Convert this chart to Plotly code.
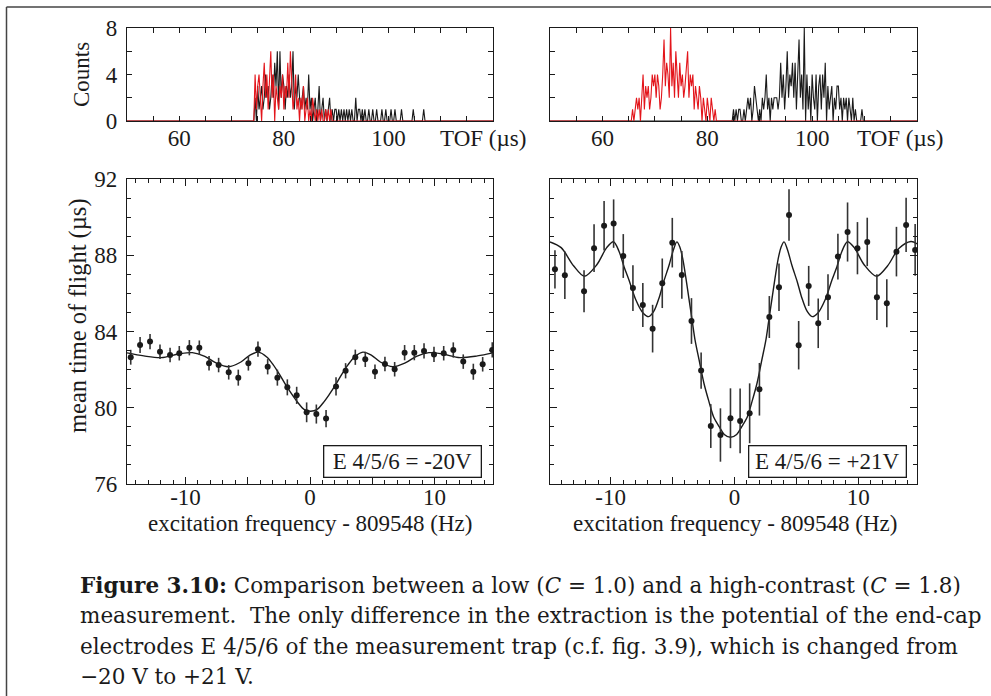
import plotly.graph_objects as go

W, H = 991, 696

# ---------------- data ----------------
# TOF histograms (counts per 0.25 us bin)
TOF_RANGE = [50, 120]
TOF_BIN = 0.25
hist_low_red_start = 74.5
hist_low_red = [4, 1, 3, 4, 2, 0, 3, 5, 2, 4, 1, 3, 6, 2, 4, 0, 3, 2, 1, 3,
                2, 4, 1, 3, 2, 5, 2, 6, 3, 1, 2, 4, 1, 2, 0, 2, 1, 3, 0, 1,
                2, 0, 1, 0, 2, 1, 0, 1, 0, 1, 0, 1, 0, 0, 1, 0, 1, 0, 1, 0]
hist_low_black_start = 74.5
hist_low_black = [2, 0, 3, 1, 2, 3, 1, 2, 4, 2, 3, 1, 2, 4, 2, 5, 3, 6, 1, 6,
                  2, 4, 3, 1, 3, 2, 4, 2, 3, 6, 1, 3, 2, 4, 2, 1, 2, 3, 1, 2,
                  1, 4, 1, 2, 0, 1, 2, 0, 1, 3, 0, 1, 2, 0, 1, 0, 1, 2, 0, 1,
                  0, 1, 1, 0, 1, 0, 1, 0, 1, 0, 1, 0, 1, 0, 1, 0, 0, 2, 0, 1,
                  1, 0, 1, 0, 1, 0, 0, 1, 0, 0, 1, 0, 0, 1, 0, 0, 0, 1, 0, 0,
                  1, 0, 0, 0, 1, 0, 0, 1, 0, 0, 0, 0, 1, 0, 0, 0, 0, 0, 0, 0,
                  0, 1, 0, 0, 0, 0, 0, 0, 0, 1, 0]
hist_high_red_start = 65.75
hist_high_red = [1, 0, 1, 2, 1, 2, 0, 2, 4, 1, 3, 2, 3, 1, 2, 4, 3, 4, 2, 4,
                 3, 1, 2, 4, 7, 3, 5, 4, 2, 8, 3, 5, 2, 6, 4, 2, 5, 3, 4, 2,
                 3, 5, 6, 2, 4, 3, 4, 1, 3, 2, 1, 3, 2, 0, 2, 1, 0, 2, 1, 0,
                 2, 1, 0, 1, 0]
hist_high_black_start = 85.0
hist_high_black = [1, 0, 1, 0, 1, 1, 0, 0, 1, 0, 1, 2, 1, 2, 0, 1, 3, 2, 1, 0,
                   1, 0, 2, 1, 2, 4, 1, 2, 0, 2, 1, 2, 2, 2, 1, 2, 5, 2, 4, 1,
                   3, 6, 2, 4, 3, 5, 2, 5, 1, 4, 7, 2, 4, 1, 8, 0, 4, 1, 3, 0,
                   4, 2, 1, 4, 0, 3, 4, 1, 4, 2, 5, 0, 3, 1, 2, 3, 0, 2, 1, 3,
                   3, 1, 2, 0, 2, 1, 2, 0, 2, 1, 0, 2, 0, 1, 0, 0, 0, 0, 1, 0]

# Resonances: excitation frequency - 809548 (Hz) vs mean TOF (us)
freq_low = [-14.4, -13.65, -12.85, -12.05, -11.24, -10.5, -9.69, -8.89, -8.11, -7.34,
            -6.53, -5.76, -4.95, -4.18, -3.4, -2.62, -1.82, -1.07, -0.27, 0.51,
            1.29, 2.09, 2.86, 3.64, 4.44, 5.22, 6.02, 6.8, 7.6, 8.38,
            9.16, 9.96, 10.74, 11.51, 12.31, 13.12, 13.87, 14.64]
tof_low = [82.65, 83.29, 83.47, 82.94, 82.77, 82.86, 83.15, 83.15, 82.33, 82.24,
           81.86, 81.58, 82.33, 83.07, 82.15, 81.58, 81.07, 80.65, 79.76, 79.67,
           79.43, 81.12, 81.94, 82.65, 82.54, 81.89, 82.30, 82.02, 82.89, 82.89,
           82.98, 82.80, 82.86, 83.03, 82.42, 81.89, 82.28, 83.03]
err_low = [0.39, 0.42, 0.40, 0.38, 0.38, 0.38, 0.40, 0.38, 0.38, 0.38,
           0.38, 0.42, 0.38, 0.40, 0.40, 0.42, 0.42, 0.45, 0.52, 0.50,
           0.45, 0.48, 0.40, 0.40, 0.40, 0.38, 0.38, 0.38, 0.40, 0.40,
           0.40, 0.40, 0.38, 0.40, 0.38, 0.42, 0.38, 0.40]
fit_low_x = [-14.7, -13.35, -11.95, -10.55, -9.45, -8.45, -7.55, -6.55, -5.55, -4.85,
             -4.15, -3.45, -2.95, -2.45, -1.95, -1.45, -0.95, -0.45, 0.05, 0.55,
             1.05, 1.55, 2.05, 2.55, 3.05, 3.55, 4.25, 4.95, 5.65, 6.65,
             7.65, 8.55, 9.55, 10.65, 12.05, 13.45, 14.7]
fit_low_y = [82.88, 82.72, 82.63, 82.82, 82.89, 82.70, 82.35, 82.15, 82.40, 82.75,
             82.92, 82.65, 82.25, 81.75, 81.20, 80.70, 80.25, 79.90, 79.82, 79.90,
             80.25, 80.70, 81.20, 81.75, 82.25, 82.65, 82.92, 82.75, 82.40, 82.15,
             82.35, 82.70, 82.89, 82.82, 82.63, 82.72, 82.88]

freq_high = [-14.5, -13.7, -12.15, -11.34, -10.53, -9.76, -8.98, -8.2, -7.4, -6.61,
             -5.83, -5.02, -4.25, -3.47, -2.69, -1.91, -1.13, -0.32, 0.46, 1.23,
             2.02, 2.82, 3.6, 4.41, 5.19, 6.0, 6.77, 7.56, 8.36, 9.14,
             9.94, 10.73, 11.51, 12.31, 13.09, 13.87, 14.6]
tof_high = [87.26, 86.95, 86.11, 88.37, 89.55, 89.66, 87.96, 86.28, 85.39, 84.15,
            86.53, 88.66, 86.97, 84.55, 81.95, 79.04, 78.57, 79.45, 79.31, 79.71,
            80.97, 84.76, 86.32, 90.11, 83.28, 86.39, 84.43, 85.80, 87.93, 89.22,
            88.37, 88.70, 85.80, 85.48, 88.19, 89.59, 88.28]
err_high = [1.00, 1.25, 1.10, 1.25, 1.30, 1.27, 1.15, 1.20, 1.15, 1.25,
            1.30, 1.30, 1.25, 1.20, 0.95, 1.15, 1.40, 1.57, 1.70, 1.57,
            1.38, 1.10, 1.25, 1.35, 1.27, 1.05, 1.30, 1.20, 1.20, 1.55,
            1.37, 1.27, 1.20, 1.26, 1.30, 1.42, 1.36]
fit_high_x = [-14.9, -14.0, -13.0, -12.12, -11.12, -10.32, -9.77, -9.32, -8.92, -8.52,
              -7.96, -7.42, -6.92, -6.52, -6.07, -5.72, -5.27, -4.92, -4.65, -4.42,
              -4.17, -3.92, -3.67, -3.42, -3.18, -2.82, -2.47, -2.07, -1.67, -1.22,
              -0.82, -0.32, 0.18, 0.58, 1.03, 1.43, 1.83, 2.18, 2.54, 2.78,
              3.03, 3.28, 3.53, 3.78, 4.01, 4.28, 4.63, 5.08, 5.43, 5.88,
              6.28, 6.78, 7.32, 7.88, 8.28, 8.68, 9.13, 9.68, 10.48, 11.48,
              12.38, 13.28, 14.26, 14.75]
fit_high_y = [88.70, 88.40, 87.45, 86.90, 87.50, 88.40, 88.71, 88.20, 87.40, 86.70,
              85.65, 85.00, 84.78, 85.05, 85.80, 86.60, 87.50, 88.30, 88.70, 88.45,
              87.80, 86.80, 85.70, 84.60, 83.55, 82.40, 81.30, 80.35, 79.50, 79.00,
              78.60, 78.45, 78.60, 79.00, 79.50, 80.35, 81.30, 82.40, 83.55, 84.60,
              85.70, 86.80, 87.80, 88.45, 88.70, 88.30, 87.50, 86.60, 85.80, 85.05,
              84.78, 85.00, 85.65, 86.70, 87.40, 88.20, 88.71, 88.40, 87.50, 86.90,
              87.45, 88.35, 88.72, 88.60]

hist_ticks = [0, 4, 8]
tof_ticks = [60, 80, 100]
mean_ticks = [76, 80, 84, 88, 92]
freq_ticks = [-10, -5, 0, 5, 10]
freq_ticktext = ["-10", "", "0", "", "10"]

caption_lines = [
    "<b>Figure 3.10:</b> Comparison between a low (<i>C</i> = 1.0) and a high-contrast (<i>C</i> = 1.8)",
    "measurement.  The only difference in the extraction is the potential of the end-cap",
    "electrodes E 4/5/6 of the measurement trap (c.f. fig. 3.9), which is changed from",
    "\u221220 V to +21 V.",
]

# ---------------- helpers ----------------
def px(x):
    return x / W


def py(y):
    return 1 - y / H


def hist_xy(start, counts):
    xs = [TOF_RANGE[0], start - TOF_BIN]
    ys = [0, 0]
    for i, c in enumerate(counts):
        xs.append(start + i * TOF_BIN)
        ys.append(c)
    xs += [start + len(counts) * TOF_BIN, TOF_RANGE[1]]
    ys += [0, 0]
    return xs, ys


FONT = "Liberation Serif"
CAPFONT = "DejaVu Serif"
INK = "#1a1a1a"
RED = "#e3151b"

fig = go.Figure()

# histograms
for start, counts, color, ax in [
    (hist_low_black_start, hist_low_black, INK, 1),
    (hist_low_red_start, hist_low_red, RED, 1),
    (hist_high_black_start, hist_high_black, INK, 2),
    (hist_high_red_start, hist_high_red, RED, 2),
]:
    xs, ys = hist_xy(start, counts)
    fig.add_trace(go.Scatter(
        x=xs, y=ys, mode="lines", line=dict(color=color, width=1.1),
        xaxis="x" if ax == 1 else "x2", yaxis="y" if ax == 1 else "y2",
        showlegend=False, hoverinfo="skip"))

# resonances
for fx, fy, x, y, e, ax in [
    (fit_low_x, fit_low_y, freq_low, tof_low, err_low, 3),
    (fit_high_x, fit_high_y, freq_high, tof_high, err_high, 4),
]:
    fig.add_trace(go.Scatter(
        x=fx, y=fy, mode="lines", line=dict(color=INK, width=1.4, shape="spline", smoothing=0.9),
        xaxis=f"x{ax}", yaxis=f"y{ax}", showlegend=False, hoverinfo="skip"))
    fig.add_trace(go.Scatter(
        x=x, y=y, mode="markers",
        marker=dict(color=INK, size=6),
        error_y=dict(type="data", array=e, visible=True, color="#333333", thickness=1.6, width=0),
        xaxis=f"x{ax}", yaxis=f"y{ax}", showlegend=False))

axis_common = dict(
    showline=True, linecolor=INK, linewidth=1.4, mirror="allticks",
    ticks="inside", tickcolor=INK, tickwidth=1.1,
    showgrid=False, zeroline=False, automargin=False,
    tickfont=dict(family=FONT, size=23, color=INK),
)

xl = [127, 493]
xr = [550, 917]
yt = [28, 121]
yb = [179, 484]

layout = dict(
    width=W, height=H,
    margin=dict(l=0, r=0, t=0, b=0),
    paper_bgcolor="white", plot_bgcolor="white",
    showlegend=False,
    xaxis=dict(axis_common, domain=[px(xl[0]), px(xl[1])], anchor="y", range=TOF_RANGE,
               tickmode="array", tickvals=tof_ticks, ticklen=5, ticklabelstandoff=-4,
               minor=dict(dtick=5, ticklen=5, ticks="inside", tickcolor=INK)),
    yaxis=dict(axis_common, domain=[py(yt[1]), py(yt[0])], anchor="x", range=[0, 8],
               tickmode="array", tickvals=hist_ticks, ticklen=5, ticklabelstandoff=4,
               minor=dict(dtick=2, ticklen=5, ticks="inside", tickcolor=INK)),
    xaxis2=dict(axis_common, domain=[px(xr[0]), px(xr[1])], anchor="y2", range=TOF_RANGE,
                tickmode="array", tickvals=tof_ticks, ticklen=5, ticklabelstandoff=-4,
                minor=dict(dtick=5, ticklen=5, ticks="inside", tickcolor=INK)),
    yaxis2=dict(axis_common, domain=[py(yt[1]), py(yt[0])], anchor="x2", range=[0, 8],
                tickmode="array", tickvals=hist_ticks, ticklen=5, showticklabels=False,
                minor=dict(dtick=2, ticklen=5, ticks="inside", tickcolor=INK)),
    xaxis3=dict(axis_common, domain=[px(xl[0]), px(xl[1])], anchor="y3", range=[-14.7, 14.7],
                tickmode="array", tickvals=freq_ticks, ticktext=freq_ticktext, ticklen=7,
                ticklabelstandoff=-8,
                minor=dict(dtick=1, ticklen=4, ticks="inside", tickcolor=INK)),
    yaxis3=dict(axis_common, domain=[py(yb[1]), py(yb[0])], anchor="x3", range=[76, 92],
                tickmode="array", tickvals=mean_ticks, ticklen=7, ticklabelstandoff=4,
                minor=dict(dtick=1, ticklen=4, ticks="inside", tickcolor=INK)),
    xaxis4=dict(axis_common, domain=[px(xr[0]), px(xr[1])], anchor="y4", range=[-14.9, 14.75],
                tickmode="array", tickvals=freq_ticks, ticktext=freq_ticktext, ticklen=7,
                ticklabelstandoff=-8,
                minor=dict(dtick=1, ticklen=4, ticks="inside", tickcolor=INK)),
    yaxis4=dict(axis_common, domain=[py(yb[1]), py(yb[0])], anchor="x4", range=[76, 92],
                tickmode="array", tickvals=mean_ticks, ticklen=7, showticklabels=False,
                minor=dict(dtick=1, ticklen=4, ticks="inside", tickcolor=INK)),
)
fig.update_layout(**layout)

ann = []
def text(x, y, s, size=23, angle=0, xanchor="center", family=FONT, **kw):
    ann.append(dict(x=px(x), y=py(y), xref="paper", yref="paper", text=s, showarrow=False,
                    textangle=angle, xanchor=xanchor, yanchor="middle",
                    font=dict(family=family, size=size, color=INK), **kw))

text(82, 75, "Counts", angle=-90)
text(78, 316, "mean time of flight (\u00b5s)", size=24.5, angle=-90)
text(483, 138, "TOF (\u00b5s)")
text(900, 138, "TOF (\u00b5s)")
text(310, 523, "excitation frequency - 809548 (Hz)")
text(735, 523, "excitation frequency - 809548 (Hz)")
text(402, 461, "E 4/5/6 = -20V", bordercolor=INK, borderwidth=1.3, borderpad=2,
     bgcolor="white", width=152, height=26)
text(827, 461, "E 4/5/6 = +21V", bordercolor=INK, borderwidth=1.3, borderpad=2,
     bgcolor="white", width=152, height=26)

for i, line in enumerate(caption_lines):
    text(78, 585 + i * 30.5, line, size=21.5, xanchor="left", family=CAPFONT)

fig.update_layout(annotations=ann)

# page frame lines (left and top)
fig.add_shape(type="line", xref="paper", yref="paper", x0=px(6.5), x1=px(6.5), y0=0, y1=py(7),
              line=dict(color="#444444", width=1.5))
fig.add_shape(type="line", xref="paper", yref="paper", x0=px(6.5), x1=1, y0=py(7), y1=py(7),
              line=dict(color="#444444", width=1.5))

fig.write_html("out.html", config={"displayModeBar": False},
               post_script="document.body.style.margin='0px';")
